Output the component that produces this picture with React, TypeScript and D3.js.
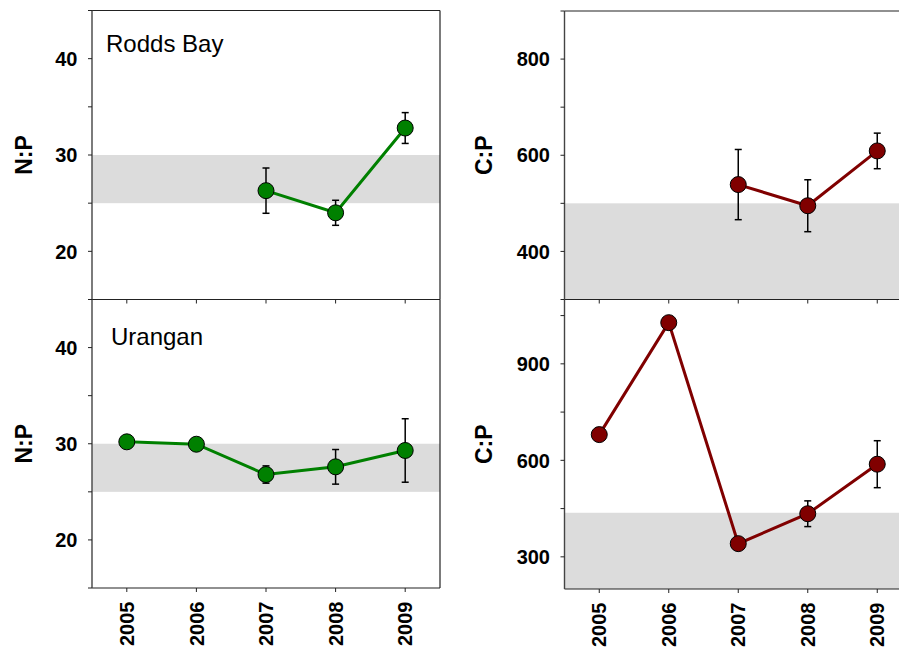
import React from "react";
import * as d3 from "d3";

const years = [2005, 2006, 2007, 2008, 2009];
const yearLabels = ["2005", "2006", "2007", "2008", "2009"];

const roddsNP = [null, null, 26.3, 24.0, 32.8];
const roddsNPSe = [null, null, 2.35, 1.3, 1.6];
const uranganNP = [30.2, 29.95, 26.8, 27.6, 29.3];
const uranganNPSe = [null, null, 0.9, 1.8, 3.3];

const roddsCP = [null, null, 539, 495, 609];
const roddsCPSe = [null, null, 73, 54, 37];
const uranganCP = [680, 1028, 341, 434, 588];
const uranganCPSe = [null, null, null, 40, 73];

const npBand = [25, 30];
const roddsCPBand = [300, 500];
const uranganCPBand = [200, 437];

const npTicks = [15, 20, 25, 30, 35, 40, 45];
const npLabels = [20, 30, 40];
const roddsCPTicks = [300, 400, 500, 600, 700, 800, 900];
const roddsCPLabels = [400, 600, 800];
const uranganCPTicks = [300, 450, 600, 750, 900, 1050];
const uranganCPLabels = [300, 600, 900];

const GREEN = "#008000";
const RED = "#800000";
const FONT = "'Liberation Sans', Arial, Helvetica, sans-serif";

type PanelProps = {
  x0: number; x1: number; y0: number; y1: number;
  domain: [number, number];
  values: (number | null)[];
  se: (number | null)[];
  band: number[];
  ticks: number[];
  labels: number[];
  color: string;
  yTitle: string;
  titleX: number;
  site?: string;
  siteX?: number;
  siteY?: number;
  bottom: boolean;
  boxRight: boolean;
};

function Panel(p: PanelProps) {
  const x = d3.scaleLinear().domain([2004.5, 2009.5]).range([p.x0, p.x1]);
  const y = d3.scaleLinear().domain(p.domain).range([p.y1, p.y0]);
  const pts = years
    .map((yr, i) => ({ yr, v: p.values[i], s: p.se[i] }))
    .filter((d) => d.v !== null) as { yr: number; v: number; s: number | null }[];
  const line = d3
    .line<{ yr: number; v: number }>()
    .x((d) => x(d.yr))
    .y((d) => y(d.v));
  const yMid = (p.y0 + p.y1) / 2;
  return (
    <g>
      <rect
        x={p.x0}
        y={y(p.band[1])}
        width={p.x1 - p.x0}
        height={y(p.band[0]) - y(p.band[1])}
        fill="#dcdcdc"
      />
      {/* frame */}
      <line x1={p.x0} x2={p.x1} y1={p.y0} y2={p.y0} stroke="#222" strokeWidth={1.2} />
      <line x1={p.x0} x2={p.x1} y1={p.y1} y2={p.y1} stroke="#222" strokeWidth={1.2} />
      <line x1={p.x0} x2={p.x0} y1={p.y0} y2={p.y1} stroke="#444" strokeWidth={1.4} />
      {p.boxRight && (
        <line x1={p.x1} x2={p.x1} y1={p.y0} y2={p.y1} stroke="#222" strokeWidth={1.2} />
      )}
      {/* y ticks */}
      {p.ticks.map((t) => (
        <line key={"t" + t} x1={p.x0 - 4} x2={p.x0} y1={y(t)} y2={y(t)} stroke="#222" strokeWidth={1} />
      ))}
      {p.labels.map((t) => (
        <text
          key={"l" + t}
          x={p.x0 - 14.5}
          y={y(t)}
          dy="0.36em"
          textAnchor="end"
          fontFamily={FONT}
          fontWeight="bold"
          fontSize={20}
          fill="#000"
        >
          {t}
        </text>
      ))}
      <text
        transform={`translate(${p.titleX},${yMid}) rotate(-90)`}
        dy="0.36em"
        textAnchor="middle"
        fontFamily={FONT}
        fontWeight="bold"
        fontSize={23}
        fill="#000"
      >
        {p.yTitle}
      </text>
      {p.bottom && (
        <g>
          {years.map((yr) => (
            <g key={"x" + yr}>
              <line x1={x(yr)} x2={x(yr)} y1={p.y0} y2={p.y0 + 4} stroke="#222" strokeWidth={1} />
              <line x1={x(yr)} x2={x(yr)} y1={p.y1} y2={p.y1 + 4} stroke="#222" strokeWidth={1} />
            </g>
          ))}
          {years.map((yr, i) => (
            <text
              key={"xl" + yr}
              transform={`translate(${x(yr)},${p.y1 + 13.5}) rotate(-90)`}
              dy="0.36em"
              textAnchor="end"
              fontFamily={FONT}
              fontWeight="bold"
              fontSize={20}
              fill="#000"
            >
              {yearLabels[i]}
            </text>
          ))}
        </g>
      )}
      {p.site && (
        <text x={p.siteX} y={p.siteY} fontFamily={FONT} fontSize={24} fill="#000">
          {p.site}
        </text>
      )}
      <path d={line(pts) || ""} fill="none" stroke={p.color} strokeWidth={3} />
      {pts
        .filter((d) => d.s !== null)
        .map((d) => {
          const cx = x(d.yr);
          const top = y(d.v + (d.s as number));
          const bot = y(d.v - (d.s as number));
          return (
            <g key={"e" + d.yr} stroke="#000" strokeWidth={1.5}>
              <line x1={cx} x2={cx} y1={top} y2={bot} />
              <line x1={cx - 3.5} x2={cx + 3.5} y1={top} y2={top} />
              <line x1={cx - 3.5} x2={cx + 3.5} y1={bot} y2={bot} />
            </g>
          );
        })}
      {pts.map((d) => (
        <circle key={"c" + d.yr} cx={x(d.yr)} cy={y(d.v)} r={8} fill={p.color} stroke="#000" strokeWidth={1} />
      ))}
    </g>
  );
}

export default function App() {
  return (
    <div style={{ position: "absolute", left: 0, top: 0 }}>
      <svg width={899} height={650} style={{ display: "block", background: "#fff" }}>
        <Panel
          x0={92} x1={440} y0={10.5} y1={299.5}
          domain={[15, 45]}
          values={roddsNP} se={roddsNPSe} band={npBand}
          ticks={npTicks} labels={npLabels}
          color={GREEN} yTitle="N:P" titleX={24}
          site="Rodds Bay" siteX={106} siteY={52}
          bottom={false} boxRight={true}
        />
        <Panel
          x0={92} x1={440} y0={299.5} y1={588}
          domain={[15, 45]}
          values={uranganNP} se={uranganNPSe} band={npBand}
          ticks={npTicks} labels={npLabels}
          color={GREEN} yTitle="N:P" titleX={24}
          site="Urangan" siteX={111} siteY={345}
          bottom={true} boxRight={true}
        />
        <Panel
          x0={564.5} x1={912} y0={11} y1={299.5}
          domain={[300, 900]}
          values={roddsCP} se={roddsCPSe} band={roddsCPBand}
          ticks={roddsCPTicks} labels={roddsCPLabels}
          color={RED} yTitle="C:P" titleX={484}
          bottom={false} boxRight={false}
        />
        <Panel
          x0={564.5} x1={912} y0={299.5} y1={589}
          domain={[200, 1100]}
          values={uranganCP} se={uranganCPSe} band={uranganCPBand}
          ticks={uranganCPTicks} labels={uranganCPLabels}
          color={RED} yTitle="C:P" titleX={484}
          bottom={true} boxRight={false}
        />
      </svg>
    </div>
  );
}
